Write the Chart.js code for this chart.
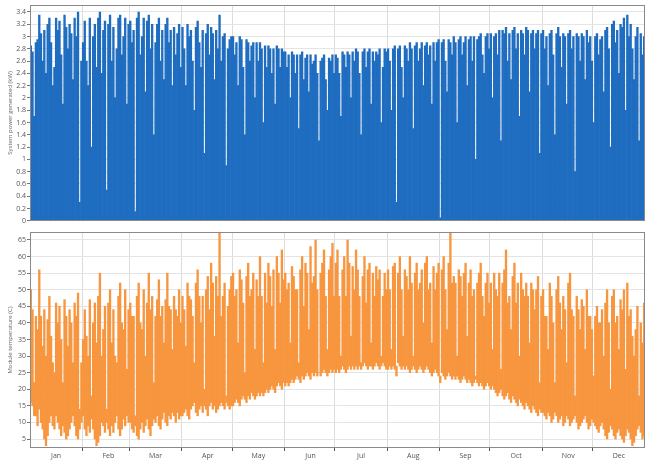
<!DOCTYPE html>
<html><head><meta charset="utf-8">
<script src="https://cdn.jsdelivr.net/npm/chart.js@4"></script>
<style>
html,body{margin:0;padding:0;background:#fff;width:651px;height:461px;overflow:hidden}
#a{position:absolute;left:0;top:0;width:651px;height:226px}
#b{position:absolute;left:0;top:226px;width:651px;height:235px}
</style></head><body>
<div id="a"><canvas id="c1"></canvas></div>
<div id="b"><canvas id="c2"></canvas></div>
<script>
const months = ['Jan','Feb','Mar','Apr','May','Jun','Jul','Aug','Sep','Oct','Nov','Dec'];
const monthDays = [31,28,31,30,31,30,31,31,30,31,30,31];
const powerTicks = [0,0.2,0.4,0.6,0.8,1,1.2,1.4,1.6,1.8,2,2.2,2.4,2.6,2.8,3,3.2,3.4];
const tempTicks = [5,10,15,20,25,30,35,40,45,50,55,60,65];

// daily peak of system power generated (kW)
const powerPeak = [
2.85,2.75,1.7,2.9,2.95,3.35,3.05,2.6,3.1,2.4,3.2,3.3,2.9,2.2,2.5,3.3,3.1,3.25,2.7,1.9,3.35,3.15,2.8,3.2,3.05,2.3,3.3,3.0,3.4,0.3,2.6,
2.9,3.25,2.6,2.2,3.3,1.2,3.0,3.2,2.5,3.3,3.4,2.4,3.1,3.25,0.5,3.2,3.35,2.6,3.15,2.0,2.8,3.3,3.35,2.7,3.0,3.3,1.9,3.2,
3.25,2.9,3.1,0.15,3.3,3.4,2.7,3.0,3.3,2.1,3.25,3.35,2.8,3.2,1.4,2.9,3.2,3.3,2.6,3.1,2.3,3.2,3.3,2.9,3.1,2.2,3.15,2.7,3.05,3.2,2.5,
3.15,2.8,2.2,3.2,3.0,3.1,2.6,1.8,3.15,3.25,2.9,2.5,3.1,1.1,3.05,3.2,2.7,3.15,3.05,2.3,3.1,2.8,3.35,2.6,3.0,3.05,0.9,2.8,2.95,3.0,
3.0,2.7,2.9,2.2,3.0,2.95,2.5,1.4,2.95,2.9,2.6,2.85,2.9,2.0,2.9,2.6,2.9,2.8,1.6,2.85,2.5,2.85,2.8,2.4,2.8,1.9,2.85,2.8,2.5,2.8,2.75,
2.75,2.5,2.7,2.0,2.75,2.7,2.4,2.7,1.5,2.7,2.75,2.3,2.65,2.7,2.1,2.7,2.55,2.6,2.7,2.4,1.3,2.6,2.65,2.7,2.3,1.8,2.65,2.6,2.7,2.4,
2.7,2.65,2.4,1.7,2.75,2.7,2.5,2.75,2.7,2.0,2.75,2.6,2.8,2.75,2.4,1.4,2.75,2.8,2.5,2.75,2.8,1.9,2.75,2.6,2.75,2.7,2.8,1.6,2.5,2.8,2.75,
2.8,2.6,1.8,2.8,2.85,0.3,2.8,2.85,2.5,2.0,2.85,2.8,2.6,2.9,2.8,1.5,2.85,2.9,2.6,2.8,2.9,2.2,2.85,2.9,2.7,2.85,1.9,2.9,2.6,2.9,2.95,
0.05,2.9,2.95,2.6,2.1,2.95,2.9,2.7,3.0,2.9,1.6,2.95,3.0,2.7,2.9,3.0,2.2,2.95,3.0,2.6,3.0,1.0,2.95,3.0,3.05,2.7,2.4,3.0,3.05,2.8,
3.05,2.0,3.0,3.05,2.7,3.1,1.3,3.1,3.05,3.15,2.6,3.05,2.3,3.1,3.15,2.8,3.05,1.7,3.1,3.05,2.7,3.15,3.1,2.1,3.05,3.1,2.8,3.05,3.1,1.1,3.05,
3.1,2.8,3.0,2.2,3.05,3.1,2.7,1.4,3.05,3.15,3.0,2.5,3.05,3.0,1.9,3.05,3.1,2.8,3.0,0.8,3.05,3.0,2.6,3.05,3.0,2.3,3.1,2.9,3.0,2.6,
1.6,3.0,3.05,2.7,2.95,3.0,2.1,3.1,3.15,2.8,1.2,3.2,3.25,2.9,3.1,2.4,3.2,3.15,3.3,1.8,3.35,3.0,3.2,2.8,2.3,3.0,3.15,1.3,3.05,2.7,3.0
];
// daily maximum / minimum module temperature (C)
const tempMax = [
50,44,22,42,38,56,42,33,44,30,41,48,36,28,25,46,40,45,35,22,47,42,33,44,40,28,46,42,49,14,28,
35,44,36,30,47,18,40,46,34,48,55,30,38,45,14,46,50,34,44,30,28,48,52,40,38,50,26,44,
46,42,42,12,48,52,40,38,50,30,46,55,44,48,22,42,47,53,42,45,34,47,55,45,44,32,48,44,42,50,40,
48,44,33,52,48,47,42,28,52,56,48,40,48,20,50,54,44,58,52,36,54,48,67,42,48,52,18,45,50,54,
55,48,50,34,56,53,46,25,54,58,48,50,55,32,53,48,60,48,28,55,46,58,54,45,56,32,60,55,46,62,53,
55,50,52,34,57,54,50,50,28,56,60,45,58,55,38,63,52,54,65,50,25,55,58,62,48,32,56,60,64,48,
58,62,48,30,56,60,48,65,58,36,57,50,62,56,48,28,54,60,46,56,58,34,55,48,57,53,56,30,48,55,50,
56,50,32,57,58,24,55,60,50,36,56,54,50,60,52,30,55,58,50,52,56,40,58,60,50,52,34,57,50,55,58,
22,56,60,50,38,58,67,52,54,52,30,56,54,48,55,58,36,52,56,48,50,24,52,55,58,48,42,52,55,46,
52,32,55,50,48,55,26,52,56,62,46,48,38,54,58,46,52,30,55,50,48,52,48,34,52,50,44,50,54,22,48,
50,42,42,32,52,48,40,22,50,54,46,38,48,44,28,52,55,44,42,18,48,44,38,47,45,32,50,42,42,38,
24,42,45,40,40,44,30,46,50,40,20,48,50,40,42,32,47,44,50,26,52,42,44,36,30,38,45,18,40,34,46
];
const tempMin = [
16,15,12,12,9,14,10,8,5,3,6,10,12,9,8,12,10,8,6,9,7,5,6,8,10,12,9,6,5,8,10,
12,8,6,9,7,11,8,5,3,4,6,10,9,7,10,8,6,9,7,10,12,8,6,8,11,9,12,10,
10,8,7,9,6,5,8,10,7,9,11,8,6,9,11,10,12,9,8,11,13,10,9,12,11,13,12,10,13,11,12,
12,13,14,12,11,14,15,16,13,12,14,15,13,15,14,12,15,16,14,15,13,14,15,16,15,14,16,15,14,15,
15,16,17,16,15,17,18,17,16,18,17,19,18,17,18,19,18,19,18,19,20,19,20,21,20,19,21,22,21,20,22,
21,22,21,22,23,22,23,24,23,22,24,23,24,25,24,23,25,24,25,24,25,24,25,26,25,24,25,26,25,26,
25,26,25,26,27,26,25,26,27,26,27,26,27,26,27,26,27,28,27,26,27,27,26,27,28,27,26,27,28,27,26,
26,27,26,27,26,27,28,27,26,27,26,27,26,25,26,27,26,25,26,27,26,25,26,27,26,25,24,25,26,25,24,
24,25,24,23,24,25,24,23,24,23,24,23,22,23,24,23,22,23,22,21,22,23,22,21,22,21,20,21,22,21,
20,21,20,19,18,19,20,18,17,18,19,17,16,18,17,16,15,17,16,15,14,16,15,14,13,15,14,13,12,14,13,
13,12,11,13,12,10,11,13,12,10,11,12,9,10,12,11,9,10,11,12,10,8,9,10,11,12,10,8,9,11,
10,9,8,7,9,10,8,6,5,7,9,8,6,5,7,8,6,5,4,6,8,7,5,3,4,6,8,9,7,5,6
];

// day labels and month lookup
const dayLabels = [], dayMonth = [], dayOfMonth = [];
monthDays.forEach((n, m) => { for (let d = 1; d <= n; d++) { dayLabels.push(months[m] + ' ' + d); dayMonth.push(m); dayOfMonth.push(d); } });

const frame = {
  id: 'frame',
  afterDraw(c) {
    const a = c.chartArea, ctx = c.ctx;
    ctx.save(); ctx.strokeStyle = '#8a8a8a'; ctx.lineWidth = 1;
    ctx.strokeRect(Math.round(a.left) + 0.5, Math.round(a.top) + 0.5, Math.round(a.right - a.left) - 1, Math.round(a.bottom - a.top) - 1);
    ctx.restore();
  }
};
const tickFont = { family: 'Open Sans, DejaVu Sans, sans-serif', size: 7 };
const gridX = {
  offset: true,
  color: (ctx) => (ctx.index > 0 && dayOfMonth[ctx.index] === 1) ? '#dcdcdc' : 'rgba(0,0,0,0)',
  tickColor: (ctx) => (ctx.index > 0 && dayOfMonth[ctx.index] === 1) ? '#555' : 'rgba(0,0,0,0)',
  tickLength: 3
};
function yScale(min, max, ticks, title) {
  return {
    min: min, max: max,
    afterBuildTicks: (s) => { s.ticks = ticks.map(v => ({ value: v })); },
    afterFit: (s) => { s.width = 30; },
    border: { display: false },
    grid: { color: '#e4e4e4', tickLength: 3, tickColor: '#777' },
    ticks: { font: tickFont, color: '#555', padding: 1, callback: (v) => String(+v.toFixed(1)) },
    title: { display: true, text: title, font: { family: 'Open Sans, DejaVu Sans, sans-serif', size: 6 }, color: '#666', padding: { top: 7, bottom: 0 } }
  };
}

new Chart(document.getElementById('c1'), {
  type: 'bar',
  data: { labels: dayLabels, datasets: [{ data: powerPeak, backgroundColor: '#1f6dc0', borderWidth: 0, barPercentage: 1, categoryPercentage: 1 }] },
  options: {
    responsive: true, maintainAspectRatio: false, animation: false,
    layout: { padding: { left: 0, right: 6, top: 5, bottom: 4 } },
    plugins: { legend: { display: false }, tooltip: { enabled: false } },
    scales: {
      x: { grid: Object.assign({}, gridX, { drawTicks: false }), border: { display: false }, ticks: { display: false, autoSkip: false }, afterFit: (s) => { s.height = 0; } },
      y: yScale(0, 3.51, powerTicks, 'System power generated (kW)')
    }
  },
  plugins: [frame]
});

new Chart(document.getElementById('c2'), {
  type: 'bar',
  data: { labels: dayLabels, datasets: [{ data: tempMin.map((v, i) => [v, tempMax[i]]), backgroundColor: '#f7963e', borderWidth: 0, barPercentage: 1, categoryPercentage: 1 }] },
  options: {
    responsive: true, maintainAspectRatio: false, animation: false,
    layout: { padding: { left: 0, right: 6, top: 6, bottom: 0 } },
    plugins: { legend: { display: false }, tooltip: { enabled: false } },
    scales: {
      x: {
        grid: gridX, border: { display: false },
        ticks: { autoSkip: false, maxRotation: 0, minRotation: 0, font: tickFont, color: '#555', padding: 1,
          callback: (v, i) => dayOfMonth[i] === 16 ? months[dayMonth[i]] : '' },
        afterFit: (s) => { s.height = 13; }
      },
      y: yScale(2.3, 67.4, tempTicks, 'Module temperature (C)')
    }
  },
  plugins: [frame]
});
</script>
</body></html>
